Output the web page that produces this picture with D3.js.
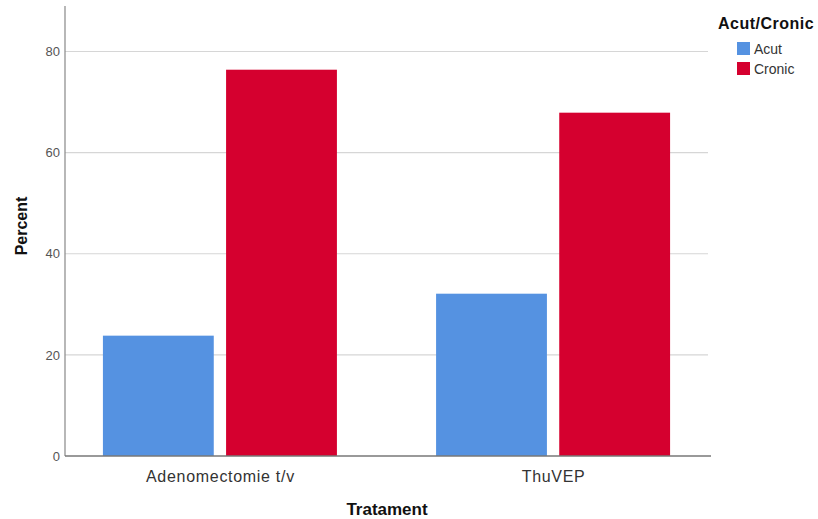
<!DOCTYPE html>
<html><head><meta charset="utf-8">
<script src="https://cdn.jsdelivr.net/npm/d3@7"></script>
<style>body{margin:0;background:#fff;} text{font-family:"Liberation Sans",Arial,sans-serif;}</style>
</head><body>
<svg id="c" width="818" height="519"></svg>
<script>
const categories = ["Adenomectomie t/v", "ThuVEP"];
const seriesNames = ["Acut", "Cronic"];
const acutValues = [23.8, 32.1];
const cronicValues = [76.4, 67.9];
const yTicks = [0, 20, 40, 60, 80];
const colors = ["#5592E1", "#D5002F"];

const svg = d3.select("#c");
const pLeft = 65, pRight = 708, pTop = 6, pBottom = 456;

const x0 = d3.scalePoint().domain(categories).range([pLeft, pRight]).padding(0.465);
const x1 = d3.scaleBand().domain(seriesNames).range([-117, 117]).paddingInner(0.1);
const y = d3.scaleLinear().domain([0, 89]).range([pBottom, pTop]);

// gridlines
svg.append("g").selectAll("line").data(yTicks.filter(d => d > 0)).join("line")
  .attr("x1", pLeft).attr("x2", pRight).attr("y1", d => y(d)).attr("y2", d => y(d))
  .attr("stroke", "#d6d6d6").attr("stroke-width", 1.2);

// bars
const data = categories.map((c, i) => ({cat: c, vals: [acutValues[i], cronicValues[i]]}));
const g = svg.append("g");
data.forEach(d => {
  g.selectAll(null).data(d.vals).join("rect")
    .attr("x", (v, j) => x0(d.cat) + x1(seriesNames[j]))
    .attr("width", x1.bandwidth())
    .attr("y", v => y(v))
    .attr("height", v => y(0) - y(v))
    .attr("fill", (v, j) => colors[j]);
});

// y axis
const yAxis = d3.axisLeft(y).tickValues(yTicks).tickSize(0).tickPadding(6);
const ya = svg.append("g").attr("transform", `translate(${pLeft},0)`).call(yAxis);
ya.select(".domain").remove();
ya.selectAll("text").attr("fill", "#555").style("font-size", "13px").attr("x", -5);
svg.append("line").attr("x1", pLeft).attr("x2", pLeft).attr("y1", pTop).attr("y2", pBottom)
  .attr("stroke", "#888").attr("stroke-width", 1.2);

// x axis
const xAxis = d3.axisBottom(x0).tickSize(0).tickPadding(10);
const xa = svg.append("g").attr("transform", `translate(0,${pBottom})`).call(xAxis);
xa.select(".domain").remove();
xa.selectAll("text").attr("fill", "#333").style("font-size", "16px").style("letter-spacing", "0.7px").attr("dy", "1.0em");
svg.append("line").attr("x1", pLeft).attr("x2", 711).attr("y1", pBottom).attr("y2", pBottom)
  .attr("stroke", "#777").attr("stroke-width", 1.4);

// axis titles
svg.append("text").attr("x", 387).attr("y", 515).attr("text-anchor", "middle")
  .style("font-size", "17px").style("font-weight", "bold").attr("fill", "#111").text("Tratament");
svg.append("text").attr("transform", "translate(27,226) rotate(-90)").attr("text-anchor", "middle")
  .style("font-size", "16px").style("font-weight", "bold").attr("fill", "#111").text("Percent");

// legend
svg.append("text").attr("x", 718).attr("y", 29).style("font-size", "16px").style("font-weight", "bold")
  .style("letter-spacing", "0.5px").attr("fill", "#111").text("Acut/Cronic");
const lg = svg.append("g").selectAll("g").data(seriesNames).join("g")
  .attr("transform", (d, i) => `translate(737,${42 + i * 20})`);
lg.append("rect").attr("width", 13).attr("height", 13).attr("fill", (d, i) => colors[i]);
lg.append("text").attr("x", 17).attr("y", 12).style("font-size", "14px").attr("fill", "#333").text(d => d);
</script>
</body></html>
